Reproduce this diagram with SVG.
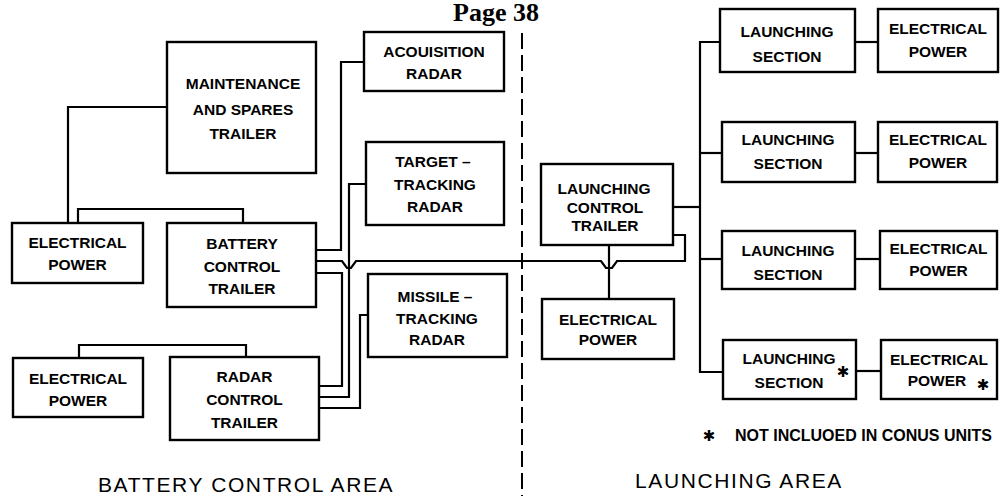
<svg xmlns="http://www.w3.org/2000/svg" width="1000" height="496" viewBox="0 0 1000 496">
<style>
.box{fill:#fff;stroke:#000;stroke-width:2.4}
.t{font-family:"Liberation Sans",Arial,sans-serif;font-weight:bold;font-size:15.5px;text-anchor:middle;fill:#000}
.c{fill:none;stroke:#000;stroke-width:2.2;stroke-linejoin:miter}
.area{font-family:"Liberation Sans",Arial,sans-serif;font-size:21px;letter-spacing:1.6px;fill:#000}
.sym{font-family:"DejaVu Sans",sans-serif;font-size:15px;font-weight:bold;text-anchor:middle;fill:#000}
</style>
<rect width="1000" height="496" fill="#fff"/>
<text x="453" y="21" font-family="'Liberation Serif','Times New Roman',serif" font-weight="bold" font-size="26">Page 38</text>
<line x1="522" y1="33" x2="522" y2="496" stroke="#000" stroke-width="2" stroke-dasharray="16 6"/>
<g id="connectors">
<path class="c" d="M167,107 H68 V223"/>
<path class="c" d="M78,223 V209 H243 V223"/>
<path class="c" d="M79,358 V345 H246 V357"/>
<path class="c" d="M316,250 H341 V62 H364"/>
<path class="c" d="M316,273 H342 V386 H319"/>
<path class="c" d="M366,184 H349 V397 H319"/>
<path class="c" d="M368,315 H360 V408 H319"/>
<path class="c" d="M316,261 H342 L347,268 H351 L356,261 H601 L606,268 H612 L617,261 H685 V235 H673"/>
<path class="c" d="M609,245 V299"/>
<path class="c" d="M673,207 H700"/>
<path class="c" d="M720,42 H700 V372 H723"/>
<path class="c" d="M700,153 H722"/>
<path class="c" d="M700,259 H722"/>
<path class="c" d="M855,42 H878"/>
<path class="c" d="M855,153 H878"/>
<path class="c" d="M855,259 H880"/>
<path class="c" d="M856,371 H881"/>
</g>
<g id="maintenance">
<rect class="box" x="167" y="42" width="149" height="131"/>
<text class="t" x="243" y="88.5">MAINTENANCE</text>
<text class="t" x="243" y="114.5">AND SPARES</text>
<text class="t" x="243" y="138.5">TRAILER</text>
</g>
<g id="ep-battery">
<rect class="box" x="12" y="223" width="131" height="60"/>
<text class="t" x="77.5" y="248">ELECTRICAL</text>
<text class="t" x="77.5" y="269.5">POWER</text>
</g>
<g id="battery-control">
<rect class="box" x="167" y="223" width="149" height="84"/>
<text class="t" x="242" y="248.5">BATTERY</text>
<text class="t" x="242" y="271.5">CONTROL</text>
<text class="t" x="242" y="293.5">TRAILER</text>
</g>
<g id="ep-radar">
<rect class="box" x="13" y="358" width="130" height="59"/>
<text class="t" x="78" y="383.5">ELECTRICAL</text>
<text class="t" x="78" y="405.5">POWER</text>
</g>
<g id="radar-control">
<rect class="box" x="170" y="357" width="149" height="83"/>
<text class="t" x="244.5" y="382">RADAR</text>
<text class="t" x="244.5" y="405">CONTROL</text>
<text class="t" x="244.5" y="427.5">TRAILER</text>
</g>
<g id="acquisition">
<rect class="box" x="364" y="32" width="140" height="59"/>
<text class="t" x="434" y="57">ACOUISITION</text>
<text class="t" x="434" y="79">RADAR</text>
</g>
<g id="target">
<rect class="box" x="366" y="142" width="138" height="83"/>
<text class="t" x="433" y="166.5">TARGET –</text>
<text class="t" x="435" y="189.5">TRACKING</text>
<text class="t" x="435" y="212">RADAR</text>
</g>
<g id="missile">
<rect class="box" x="368" y="274" width="139" height="83"/>
<text class="t" x="435" y="301.5">MISSILE –</text>
<text class="t" x="437" y="323.5">TRACKING</text>
<text class="t" x="437" y="344.5">RADAR</text>
</g>
<g id="launching-control">
<rect class="box" x="541" y="164" width="132" height="81"/>
<text class="t" x="604" y="193.5">LAUNCHING</text>
<text class="t" x="605" y="212.5">CONTROL</text>
<text class="t" x="605" y="230.5">TRAILER</text>
</g>
<g id="ep-launching">
<rect class="box" x="542" y="299" width="132" height="60"/>
<text class="t" x="608" y="324.5">ELECTRICAL</text>
<text class="t" x="608" y="344.5">POWER</text>
</g>
<g id="ls1">
<rect class="box" x="720" y="9" width="135" height="63"/>
<text class="t" x="787" y="36.5">LAUNCHING</text>
<text class="t" x="787" y="62">SECTION</text>
</g>
<g id="ep1">
<rect class="box" x="878" y="9" width="120" height="63"/>
<text class="t" x="938" y="34">ELECTRICAL</text>
<text class="t" x="938" y="56.5">POWER</text>
</g>
<g id="ls2">
<rect class="box" x="722" y="122" width="133" height="60"/>
<text class="t" x="788" y="144.5">LAUNCHING</text>
<text class="t" x="788" y="168.5">SECTION</text>
</g>
<g id="ep2">
<rect class="box" x="878" y="122" width="119" height="60"/>
<text class="t" x="938" y="145">ELECTRICAL</text>
<text class="t" x="938" y="168">POWER</text>
</g>
<g id="ls3">
<rect class="box" x="722" y="231" width="133" height="58"/>
<text class="t" x="788" y="255.5">LAUNCHING</text>
<text class="t" x="788" y="279.5">SECTION</text>
</g>
<g id="ep3">
<rect class="box" x="880" y="231" width="117" height="58"/>
<text class="t" x="938.5" y="253.5">ELECTRICAL</text>
<text class="t" x="938.5" y="275.5">POWER</text>
</g>
<g id="ls4">
<rect class="box" x="723" y="340" width="133" height="59"/>
<text class="t" x="789" y="363.5">LAUNCHING</text>
<text class="t" x="789" y="387.5">SECTION</text>
<text class="sym" x="843" y="377">✱</text>
</g>
<g id="ep4">
<rect class="box" x="881" y="340" width="116" height="59"/>
<text class="t" x="939" y="364.5">ELECTRICAL</text>
<text class="t" x="937" y="385.5">POWER</text>
<text class="sym" x="983" y="390">✱</text>
</g>
<g id="footnote">
<text class="sym" x="709" y="441">✱</text>
<text class="t" x="735" y="440.5" style="text-anchor:start;font-size:16px">NOT INCLUOED IN CONUS UNITS</text>
</g>
<text class="area" x="98" y="492">BATTERY CONTROL AREA</text>
<text class="area" x="635" y="488">LAUNCHING AREA</text>
</svg>
